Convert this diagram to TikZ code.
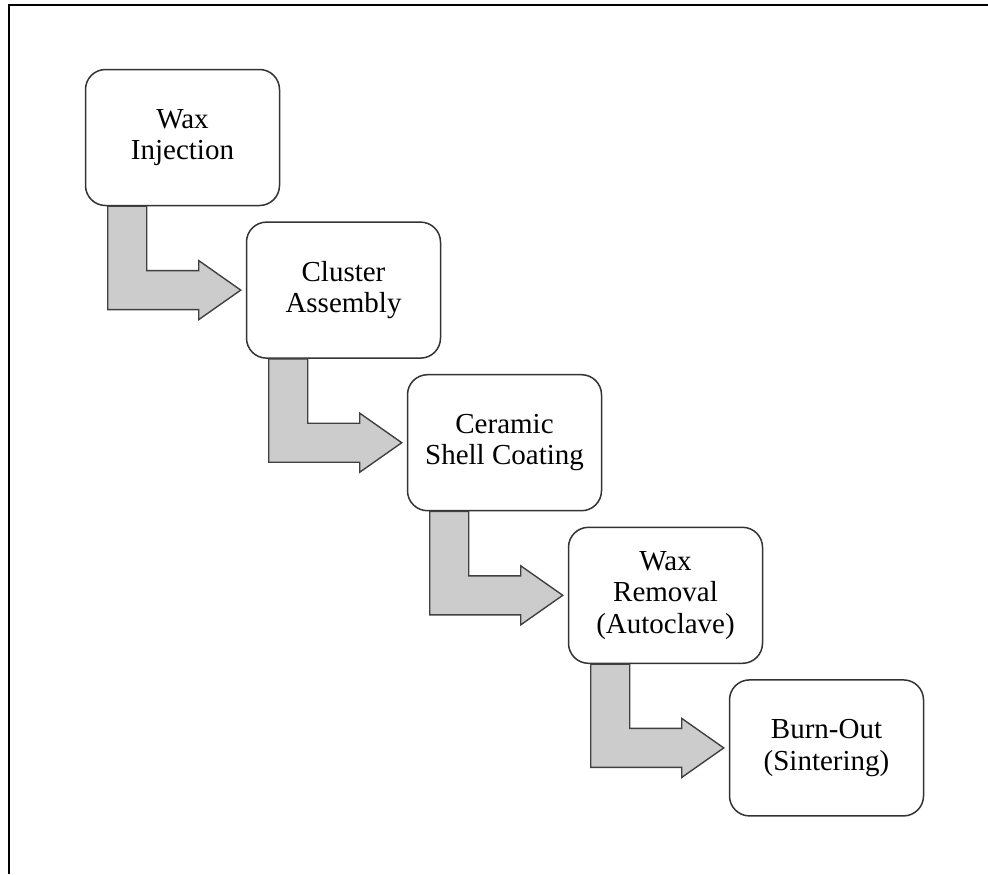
\documentclass[tikz,border=0pt]{standalone}
\usepackage{fontspec}
\setmainfont{Liberation Serif}
\usepackage{tikz}
\usetikzlibrary{positioning,calc}
\tikzset{node distance=10em, auto}
\tikzset{stage/.style={draw=black!80, line width=0.75pt, rounded corners=10pt,
		minimum width=97pt, minimum height=68pt, align=center,
		font=\fontsize{14.5}{15.7}\selectfont}}
\tikzset{bendarrow/.style={draw=black!75, line width=0.7pt, fill=black!20}}
\newcommand{\stepto}[2]{%
	\draw[bendarrow] let \p1=(#1.south west), \p2=(#2.west) in
		(\x1+11.5pt,\y1) -- (\x1+11.5pt,\y2-9.75pt) -- (\x2-23.5pt,\y2-9.75pt)
		-- (\x2-23.5pt,\y2-14.75pt) -- (\x2-2.5pt,\y2) -- (\x2-23.5pt,\y2+14.75pt)
		-- (\x2-23.5pt,\y2+9.75pt) -- (\x1+31pt,\y2+9.75pt) -- (\x1+31pt,\y1) -- cycle;}

\begin{document}
\begin{tikzpicture}[x=0.5pt, y=-0.5pt, node distance=76.3pt and 80.5pt, on grid]
				\useasboundingbox (0,0) rectangle (988,874);
				\draw[line width=1pt] (9,874) -- (9,5) -- (988,5);
				\node[stage] (WI) at (182.5,137.5)	{Wax\\Injection};
				\node[stage] (CA) [below right=of WI]	{Cluster\\Assembly};
				\node[stage] (SC) [below right=of CA]	{Ceramic\\Shell Coating};
				\node[stage] (WR) [below right=of SC]	{Wax\\Removal\\(Autoclave)};
				\node[stage] (BO) [below right=of WR]	{Burn-Out\\(Sintering)};
				\stepto{WI}{CA}
				\stepto{CA}{SC}
				\stepto{SC}{WR}
				\stepto{WR}{BO}
			\end{tikzpicture}
\end{document}
